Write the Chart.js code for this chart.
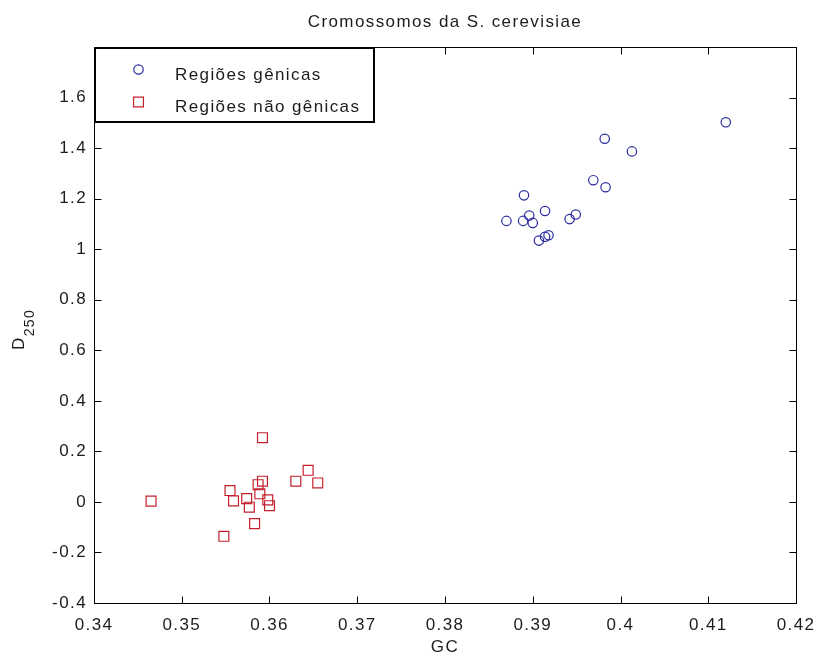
<!DOCTYPE html>
<html>
<head>
<meta charset="utf-8">
<script src="https://cdn.jsdelivr.net/npm/chart.js@4/dist/chart.umd.min.js"></script>
<style>
  html, body { margin: 0; padding: 0; background: #ffffff; }
  #wrap { width: 816px; height: 666px; }
</style>
</head>
<body>
<div id="wrap"><canvas id="c" width="816" height="666"></canvas></div>
<script>
// Text
const chartTitle = 'Cromossomos da S. cerevisiae';
const xTitle = 'GC';
const yTitleMain = 'D';
const yTitleSub = '250';
const seriesNames = ['Regiões gênicas', 'Regiões não gênicas'];

// Gene regions: GC content and D250 for each chromosome
const geneGC = [0.4120, 0.3982, 0.4013, 0.3969, 0.3983, 0.3890, 0.3914, 0.3896,
                0.3870, 0.3889, 0.3900, 0.3949, 0.3942, 0.3918, 0.3914, 0.3907];
const geneD  = [1.502, 1.437, 1.387, 1.273, 1.245, 1.213, 1.151, 1.133,
                1.112, 1.112, 1.104, 1.137, 1.119, 1.055, 1.049, 1.034];

// Non-gene regions
const nonGeneGC = [0.3592, 0.3644, 0.3630, 0.3655, 0.3592, 0.3587, 0.3555, 0.3589,
                   0.3465, 0.3559, 0.3574, 0.3598, 0.3600, 0.3577, 0.3583, 0.3548];
const nonGeneD  = [0.254, 0.125, 0.082, 0.075, 0.082, 0.068, 0.045, 0.032,
                   0.003, 0.004, 0.013, 0.008, -0.015, -0.021, -0.086, -0.136];

// Axis ranges and ticks
const xRange = [0.34, 0.42];
const yRange = [-0.4, 1.8];
const xTickValues = [0.34, 0.35, 0.36, 0.37, 0.38, 0.39, 0.40, 0.41, 0.42];
const xTickLabels = ['0.34', '0.35', '0.36', '0.37', '0.38', '0.39', '0.4', '0.41', '0.42'];
const yTickValues = [-0.4, -0.2, 0, 0.2, 0.4, 0.6, 0.8, 1.0, 1.2, 1.4, 1.6];
const yTickLabels = ['-0.4', '-0.2', '0', '0.2', '0.4', '0.6', '0.8', '1', '1.2', '1.4', '1.6'];

// Styles
const FONT = "'Liberation Sans', Arial, Helvetica, sans-serif";
const FONT_SIZE = 17;
const TEXT = '#1c1c1c';
const BLUE = '#2a2aa0';
const RED = '#c4202c';
const SPACING = '1.4px';
const TICK_LEN = 7;

const pointStyles = [
  { pointStyle: 'circle', radius: 4.7, color: BLUE },
  { pointStyle: 'rect', radius: 7, color: RED }
];

function toPoints(xs, ys) {
  return xs.map((x, i) => ({ x: x, y: ys[i] }));
}

function labelFor(values, labels, v) {
  const i = values.findIndex(t => Math.abs(t - v) < 1e-9);
  return i >= 0 ? labels[i] : '';
}

// Wider glyph spacing for all canvas text
const spacingPlugin = {
  id: 'spacing',
  beforeUpdate(chart) { chart.ctx.letterSpacing = SPACING; },
  beforeDraw(chart) { chart.ctx.letterSpacing = SPACING; }
};

// Axes box, inward tick marks, y-axis title with subscript, and the boxed legend
const framePlugin = {
  id: 'frame',
  afterDatasetsDraw(chart) {
    const ctx = chart.ctx;
    const a = chart.chartArea;
    const xs = chart.scales.x, ys = chart.scales.y;
    const L = Math.round(a.left) + 0.5, R = Math.round(a.right) + 0.5;
    const T = Math.round(a.top) + 0.5, B = Math.round(a.bottom) + 0.5;

    ctx.save();
    ctx.strokeStyle = '#000';
    ctx.lineWidth = 1;
    ctx.strokeRect(L, T, R - L, B - T);

    ctx.beginPath();
    xTickValues.forEach(v => {
      const px = Math.round(xs.getPixelForValue(v)) + 0.5;
      ctx.moveTo(px, B); ctx.lineTo(px, B - TICK_LEN);
      ctx.moveTo(px, T); ctx.lineTo(px, T + TICK_LEN);
    });
    yTickValues.forEach(v => {
      const py = Math.round(ys.getPixelForValue(v)) + 0.5;
      ctx.moveTo(L, py); ctx.lineTo(L + TICK_LEN, py);
      ctx.moveTo(R, py); ctx.lineTo(R - TICK_LEN, py);
    });
    ctx.stroke();

    // y-axis title: D with subscript 250, reading upward
    ctx.letterSpacing = SPACING;
    ctx.fillStyle = TEXT;
    ctx.translate(19.5, 350);
    ctx.rotate(-Math.PI / 2);
    ctx.textAlign = 'left';
    ctx.textBaseline = 'middle';
    ctx.font = FONT_SIZE + 'px ' + FONT;
    ctx.fillText(yTitleMain, 0, 0);
    const wD = ctx.measureText(yTitleMain).width;
    ctx.font = '14px ' + FONT;
    ctx.fillText(yTitleSub, wD, 11);
    ctx.restore();

    // Legend
    ctx.save();
    const lx = a.left + 1, ly = a.top + 1, lw = 279, lh = 74;
    ctx.fillStyle = '#fff';
    ctx.fillRect(lx, ly, lw, lh);
    ctx.strokeStyle = '#000';
    ctx.lineWidth = 2;
    ctx.strokeRect(lx, ly, lw, lh);
    const rows = [69.5, 102];
    chart.data.datasets.forEach((ds, i) => {
      const st = pointStyles[i];
      ctx.strokeStyle = st.color;
      ctx.fillStyle = 'rgba(0,0,0,0)';
      ctx.lineWidth = 1.2;
      Chart.helpers.drawPoint(ctx, {
        pointStyle: st.pointStyle, radius: st.radius, rotation: 0, borderWidth: 1.2
      }, 138.5, rows[i]);
      ctx.fillStyle = TEXT;
      ctx.letterSpacing = SPACING;
      ctx.font = FONT_SIZE + 'px ' + FONT;
      ctx.textAlign = 'left';
      ctx.textBaseline = 'alphabetic';
      ctx.fillText(ds.label, 175, rows[i] + 10);
    });
    ctx.restore();
  }
};

const datasets = [
  { label: seriesNames[0], data: toPoints(geneGC, geneD) },
  { label: seriesNames[1], data: toPoints(nonGeneGC, nonGeneD) }
].map((ds, i) => Object.assign(ds, {
  showLine: false,
  pointStyle: pointStyles[i].pointStyle,
  pointRadius: pointStyles[i].radius,
  pointHoverRadius: pointStyles[i].radius,
  pointBorderWidth: 1.2,
  pointHoverBorderWidth: 1.2,
  borderColor: pointStyles[i].color,
  backgroundColor: 'rgba(0,0,0,0)'
}));

const tickFont = { family: FONT, size: FONT_SIZE, weight: 'normal' };

new Chart(document.getElementById('c'), {
  type: 'scatter',
  data: { datasets: datasets },
  options: {
    responsive: false,
    animation: false,
    devicePixelRatio: 1,
    layout: { padding: { left: 0, right: 20, top: 0, bottom: 0 } },
    events: [],
    plugins: {
      legend: { display: false },
      tooltip: { enabled: false },
      title: {
        display: true,
        fullSize: false,
        text: chartTitle,
        color: TEXT,
        font: { family: FONT, size: FONT_SIZE, weight: 'normal' },
        padding: { top: 12, bottom: 14.6 }
      }
    },
    scales: {
      x: {
        type: 'linear',
        min: xRange[0],
        max: xRange[1],
        afterBuildTicks: s => { s.ticks = xTickValues.map(v => ({ value: v })); },
        afterFit: s => { s.height = 63; s.paddingLeft = 0; s.paddingRight = 0; },
        grid: { display: false, drawTicks: false },
        border: { display: false },
        ticks: {
          color: TEXT,
          font: tickFont,
          padding: 12,
          maxRotation: 0,
          autoSkip: false,
          callback: v => labelFor(xTickValues, xTickLabels, v)
        },
        title: {
          display: true,
          text: xTitle,
          color: TEXT,
          font: tickFont,
          padding: { top: 0, bottom: 8 }
        }
      },
      y: {
        type: 'linear',
        min: yRange[0],
        max: yRange[1],
        afterBuildTicks: s => { s.ticks = yTickValues.map(v => ({ value: v })); },
        afterFit: s => { s.width = 94; s.paddingTop = 0; s.paddingBottom = 0; },
        grid: { display: false, drawTicks: false },
        border: { display: false },
        ticks: {
          color: TEXT,
          font: tickFont,
          padding: 7,
          autoSkip: false,
          callback: v => labelFor(yTickValues, yTickLabels, v)
        },
        title: { display: false }
      }
    }
  },
  plugins: [spacingPlugin, framePlugin]
});
</script>
</body>
</html>
